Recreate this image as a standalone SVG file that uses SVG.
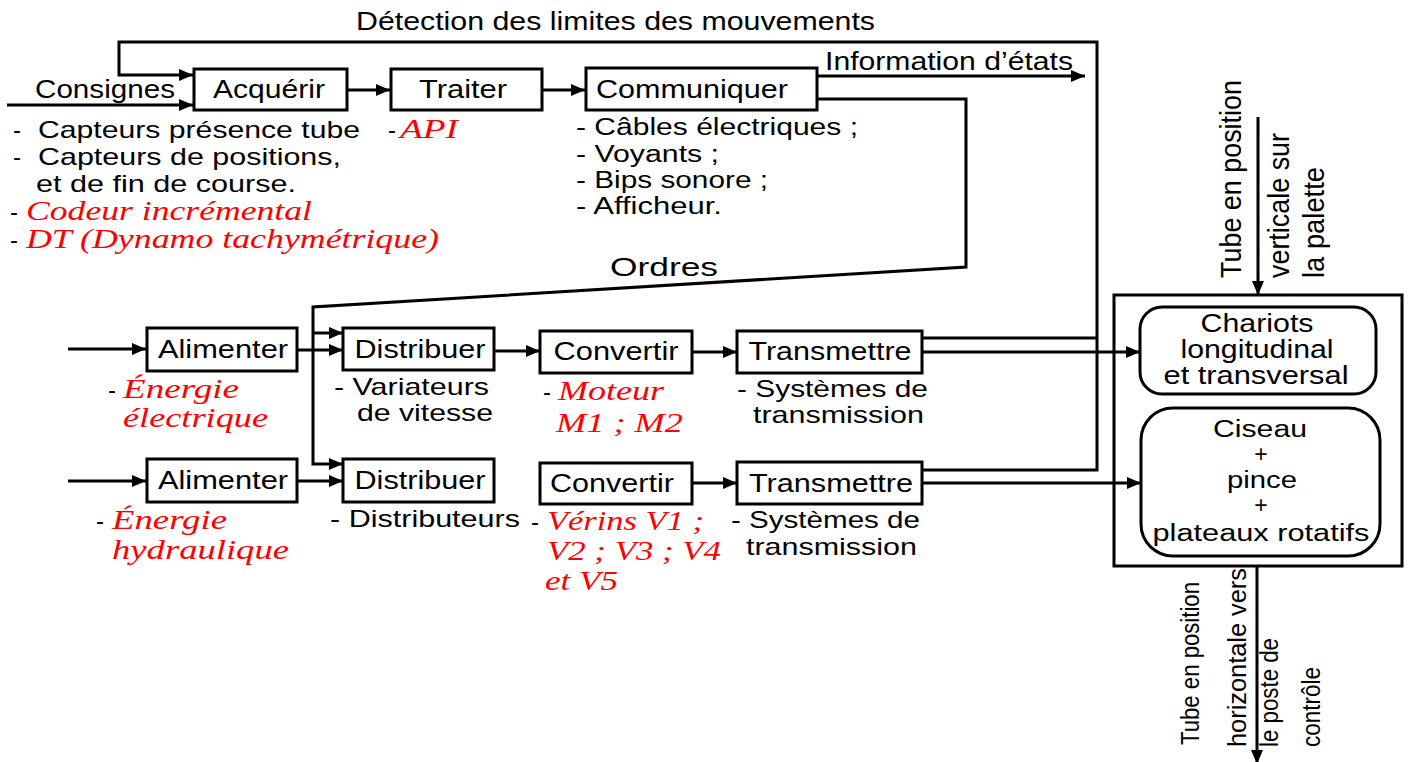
<svg xmlns="http://www.w3.org/2000/svg" width="1410" height="762" viewBox="0 0 1410 762">
<style>
.bx{fill:#fff;stroke:#000;stroke-width:3}
.ob{fill:none;stroke:#000;stroke-width:3}
.c{fill:none;stroke:#000;stroke-width:3}
.a{marker-end:url(#ah)}
.t{font-family:"Liberation Sans",Arial,sans-serif;font-size:25px;fill:#000}
.s{font-size:24px}
.n{font-size:23px}
.m{text-anchor:middle}
.r{font-family:"Liberation Serif","Times New Roman",serif;font-style:italic;font-size:28px;fill:#ff0000}
.v{font-family:"Liberation Sans",Arial,sans-serif;font-size:29px;fill:#000}
.w{font-family:"Liberation Sans",Arial,sans-serif;font-size:25px;fill:#000}
</style>
<defs>
<marker id="ah" markerUnits="userSpaceOnUse" markerWidth="14" markerHeight="12" refX="14" refY="6" orient="auto">
<path d="M0,0 L14,6 L0,12 z" fill="#000"/>
</marker>
</defs>
<rect width="1410" height="762" fill="#fff"/>

<g id="labels">
<text class="t" x="356" y="30" textLength="519" lengthAdjust="spacingAndGlyphs">Détection des limites des mouvements</text>
<text class="t" x="35" y="98" textLength="140" lengthAdjust="spacingAndGlyphs">Consignes</text>
<text class="t" x="825" y="70" textLength="248" lengthAdjust="spacingAndGlyphs">Information d’états</text>
<text class="t" x="610" y="276" textLength="108" lengthAdjust="spacingAndGlyphs">Ordres</text>
</g>

<g id="acquerir">
<rect class="bx" x="194" y="69" width="153" height="41"/>
<text class="t m" x="269" y="98" textLength="112" lengthAdjust="spacingAndGlyphs">Acquérir</text>
<text class="t s" x="13" y="138">-</text>
<text class="t s" x="38" y="138" textLength="322" lengthAdjust="spacingAndGlyphs">Capteurs présence tube</text>
<text class="t s" x="13" y="165">-</text>
<text class="t s" x="38" y="165" textLength="303" lengthAdjust="spacingAndGlyphs">Capteurs de positions,</text>
<text class="t s" x="36" y="192" textLength="260" lengthAdjust="spacingAndGlyphs">et de fin de course.</text>
<text class="t s" x="10" y="220">-</text>
<text class="r" x="26" y="220" textLength="286" lengthAdjust="spacingAndGlyphs">Codeur incrémental</text>
<text class="t s" x="10" y="248">-</text>
<text class="r" x="26" y="248" textLength="413" lengthAdjust="spacingAndGlyphs">DT (Dynamo tachymétrique)</text>
</g>

<g id="traiter">
<rect class="bx" x="391" y="69" width="151" height="41"/>
<text class="t m" x="463" y="98" textLength="88" lengthAdjust="spacingAndGlyphs">Traiter</text>
<text class="t s" x="388" y="138">-</text>
<text class="r" x="400" y="138" textLength="58" lengthAdjust="spacingAndGlyphs">API</text>
</g>

<g id="communiquer">
<rect class="bx" x="586" y="68" width="231" height="42"/>
<text class="t m" x="692" y="98" textLength="192" lengthAdjust="spacingAndGlyphs">Communiquer</text>
<text class="t n" x="576" y="135" textLength="282" lengthAdjust="spacingAndGlyphs">- Câbles électriques ;</text>
<text class="t n" x="576" y="162" textLength="143" lengthAdjust="spacingAndGlyphs">- Voyants ;</text>
<text class="t n" x="576" y="188" textLength="192" lengthAdjust="spacingAndGlyphs">- Bips sonore ;</text>
<text class="t n" x="576" y="214" textLength="146" lengthAdjust="spacingAndGlyphs">- Afficheur.</text>
</g>

<g id="alimenter1">
<rect class="bx" x="147" y="328" width="150" height="43"/>
<text class="t m" x="223" y="358" textLength="130" lengthAdjust="spacingAndGlyphs">Alimenter</text>
<text class="t s" x="108" y="398">-</text>
<text class="r" x="123" y="398" textLength="116" lengthAdjust="spacingAndGlyphs">Énergie</text>
<text class="r" x="123" y="427" textLength="145" lengthAdjust="spacingAndGlyphs">électrique</text>
</g>

<g id="distribuer1">
<rect class="bx" x="343" y="328" width="151" height="42"/>
<text class="t m" x="420" y="358" textLength="131" lengthAdjust="spacingAndGlyphs">Distribuer</text>
<text class="t s" x="334" y="395" textLength="155" lengthAdjust="spacingAndGlyphs">- Variateurs</text>
<text class="t s" x="357" y="421" textLength="136" lengthAdjust="spacingAndGlyphs">de vitesse</text>
</g>

<g id="convertir1">
<rect class="bx" x="540" y="331" width="152" height="42"/>
<text class="t m" x="616" y="360" textLength="125" lengthAdjust="spacingAndGlyphs">Convertir</text>
<text class="t s" x="543" y="400">-</text>
<text class="r" x="558" y="400" textLength="106" lengthAdjust="spacingAndGlyphs">Moteur</text>
<text class="r" x="556" y="432" textLength="127" lengthAdjust="spacingAndGlyphs">M1 ; M2</text>
</g>

<g id="transmettre1">
<rect class="bx" x="737" y="331" width="185" height="42"/>
<text class="t m" x="830" y="360" textLength="163" lengthAdjust="spacingAndGlyphs">Transmettre</text>
<text class="t s" x="737" y="397" textLength="191" lengthAdjust="spacingAndGlyphs">- Systèmes de</text>
<text class="t s" x="753" y="423" textLength="171" lengthAdjust="spacingAndGlyphs">transmission</text>
</g>

<g id="alimenter2">
<rect class="bx" x="147" y="459" width="150" height="43"/>
<text class="t m" x="223" y="489" textLength="130" lengthAdjust="spacingAndGlyphs">Alimenter</text>
<text class="t s" x="96" y="529">-</text>
<text class="r" x="112" y="529" textLength="115" lengthAdjust="spacingAndGlyphs">Énergie</text>
<text class="r" x="112" y="559" textLength="177" lengthAdjust="spacingAndGlyphs">hydraulique</text>
</g>

<g id="distribuer2">
<rect class="bx" x="343" y="459" width="151" height="43"/>
<text class="t m" x="420" y="489" textLength="131" lengthAdjust="spacingAndGlyphs">Distribuer</text>
<text class="t s" x="330" y="527" textLength="190" lengthAdjust="spacingAndGlyphs">- Distributeurs</text>
</g>

<g id="convertir2">
<rect class="bx" x="540" y="463" width="152" height="41"/>
<text class="t m" x="612" y="492" textLength="124" lengthAdjust="spacingAndGlyphs">Convertir</text>
<text class="t s" x="531" y="530">-</text>
<text class="r" x="547" y="530" textLength="157" lengthAdjust="spacingAndGlyphs">Vérins V1 ;</text>
<text class="r" x="547" y="560" textLength="174" lengthAdjust="spacingAndGlyphs">V2 ; V3 ; V4</text>
<text class="r" x="545" y="590" textLength="73" lengthAdjust="spacingAndGlyphs">et V5</text>
</g>

<g id="transmettre2">
<rect class="bx" x="737" y="462" width="185" height="42"/>
<text class="t m" x="831" y="492" textLength="164" lengthAdjust="spacingAndGlyphs">Transmettre</text>
<text class="t s" x="731" y="528" textLength="189" lengthAdjust="spacingAndGlyphs">- Systèmes de</text>
<text class="t s" x="746" y="555" textLength="171" lengthAdjust="spacingAndGlyphs">transmission</text>
</g>

<g id="systeme">
<rect class="ob" x="1114" y="295" width="288" height="271"/>
</g>

<g id="chariots">
<rect class="bx" x="1140" y="307" width="236" height="87" rx="22" ry="22"/>
<text class="t m" x="1257" y="332" textLength="113" lengthAdjust="spacingAndGlyphs">Chariots</text>
<text class="t m" x="1257" y="358" textLength="153" lengthAdjust="spacingAndGlyphs">longitudinal</text>
<text class="t m" x="1256" y="384" textLength="185" lengthAdjust="spacingAndGlyphs">et transversal</text>
</g>

<g id="ciseau">
<rect class="bx" x="1141" y="408" width="239" height="148" rx="32" ry="32"/>
<text class="t n m" x="1260" y="437" textLength="94" lengthAdjust="spacingAndGlyphs">Ciseau</text>
<text class="t n m" x="1261" y="462">+</text>
<text class="t n m" x="1262" y="488" textLength="70" lengthAdjust="spacingAndGlyphs">pince</text>
<text class="t n m" x="1261" y="513">+</text>
<text class="t n m" x="1261" y="541" textLength="217" lengthAdjust="spacingAndGlyphs">plateaux rotatifs</text>
</g>

<g id="entree">
<text class="v" transform="translate(1241,278) rotate(-90)" textLength="198" lengthAdjust="spacingAndGlyphs">Tube en position</text>
<text class="v" transform="translate(1289,278) rotate(-90)" textLength="145" lengthAdjust="spacingAndGlyphs">verticale sur</text>
<text class="v" transform="translate(1324,278) rotate(-90)" textLength="111" lengthAdjust="spacingAndGlyphs">la palette</text>
</g>

<g id="sortie">
<text class="w" transform="translate(1199,745) rotate(-90)" textLength="163" lengthAdjust="spacingAndGlyphs">Tube en position</text>
<text class="w" transform="translate(1246,747) rotate(-90)" textLength="179" lengthAdjust="spacingAndGlyphs">horizontale vers</text>
<text class="w" transform="translate(1278,747) rotate(-90)" textLength="109" lengthAdjust="spacingAndGlyphs">le poste de</text>
<text class="w" transform="translate(1320,747) rotate(-90)" textLength="80" lengthAdjust="spacingAndGlyphs">contrôle</text>
</g>

<g id="connectors">
<path class="c a" d="M922,470 H1097 V42 H119 V75 H193"/>
<path class="c" d="M922,338 H1097"/>
<path class="c a" d="M7,105 H193"/>
<path class="c a" d="M347,90 H390"/>
<path class="c a" d="M542,90 H585"/>
<path class="c a" d="M817,76 H1085"/>
<path class="c a" d="M817,99 H966 V267 L313,307 V464 H343"/>
<path class="c a" d="M313,333 H343"/>
<path class="c a" d="M68,349 H146"/>
<path class="c a" d="M297,350 H343"/>
<path class="c a" d="M68,481 H146"/>
<path class="c a" d="M297,481 H343"/>
<path class="c a" d="M495,351 H540"/>
<path class="c a" d="M692,352 H737"/>
<path class="c a" d="M692,483 H737"/>
<path class="c a" d="M922,352 H1140"/>
<path class="c a" d="M922,483 H1141"/>
<path class="c a" d="M1258,117 V295"/>
<path class="c a" d="M1257,567 V764"/>
</g>
</svg>
